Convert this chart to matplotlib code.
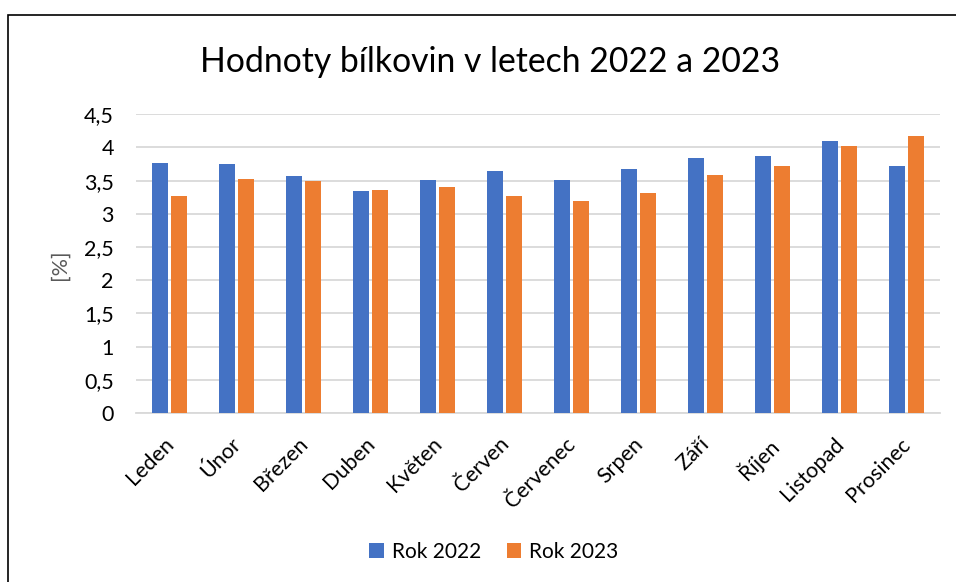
import matplotlib
matplotlib.use("Agg")
import matplotlib.pyplot as plt
import matplotlib.transforms as mtransforms
import numpy as np
from matplotlib.patches import Rectangle
from matplotlib.ticker import FuncFormatter

months = ["Leden", "Únor", "Březen", "Duben", "Květen", "Červen", "Červenec",
          "Srpen", "Září", "Říjen", "Listopad", "Prosinec"]
rok_2022 = [3.77, 3.75, 3.57, 3.35, 3.515, 3.64, 3.515, 3.68, 3.845, 3.87, 4.10, 3.715]
rok_2023 = [3.27, 3.53, 3.50, 3.365, 3.41, 3.27, 3.20, 3.32, 3.59, 3.725, 4.025, 4.18]
yticks = [0, 0.5, 1, 1.5, 2, 2.5, 3, 3.5, 4, 4.5]

plt.rcParams['font.family'] = ['Lato', 'DejaVu Sans']
FS = 15.5

fig = plt.figure(figsize=(9.56, 5.82), dpi=100)
fig.patches.append(Rectangle((8/956, -0.1), 1.2, 1 - 15/582 + 0.1, transform=fig.transFigure,
                             fill=False, edgecolor='black', linewidth=1.2))

ax = fig.add_axes([136/956, 1 - 413/582, (940 - 136)/956, (413 - 114.3)/582])
x = np.arange(len(months))
w = 0.24
off = 0.145
ax.bar(x - off, rok_2022, w, color='#4472C4', label='Rok 2022', zorder=3)
ax.bar(x + off, rok_2023, w, color='#ED7D31', label='Rok 2023', zorder=3)

ax.set_xlim(-0.5, len(months) - 0.5)
ax.set_ylim(0, 4.5)
ax.set_yticks(yticks)
ax.yaxis.set_major_formatter(FuncFormatter(lambda v, p: ('%g' % v).replace('.', ',')))
ax.grid(axis='y', color='#D9D9D9', linewidth=1.3, zorder=0)
for s in ['top', 'right', 'left']:
    ax.spines[s].set_visible(False)
ax.spines['bottom'].set_color('#D9D9D9')
ax.spines['bottom'].set_linewidth(1.3)
ax.tick_params(axis='both', length=0, labelsize=FS, colors='black')
ax.tick_params(axis='y', pad=16)
ax.set_xticks(x)
ax.set_xticklabels(months, rotation=45, ha='right', va='top', rotation_mode='anchor')
ax.tick_params(axis='x', pad=15)
shift = mtransforms.ScaledTranslation(-6/100, 0, fig.dpi_scale_trans)
for lab in ax.get_xticklabels():
    lab.set_transform(lab.get_transform() + shift)

fig.text(60/956, 1 - 265/582, '[%]', rotation=90, ha='center', va='center',
         fontsize=FS, color='#595959')
fig.text(490/956, 1 - 62/582, 'Hodnoty bílkovin v letech 2022 a 2023', ha='center',
         va='center', fontsize=24.3, color='black')

fig.legend(loc='center', bbox_to_anchor=(494/956, 1 - 552/582), ncol=2, frameon=False,
           fontsize=15, handlelength=0.7, handleheight=0.7, columnspacing=1.2,
           handletextpad=0.4)

fig.savefig('out.png', dpi=100)
